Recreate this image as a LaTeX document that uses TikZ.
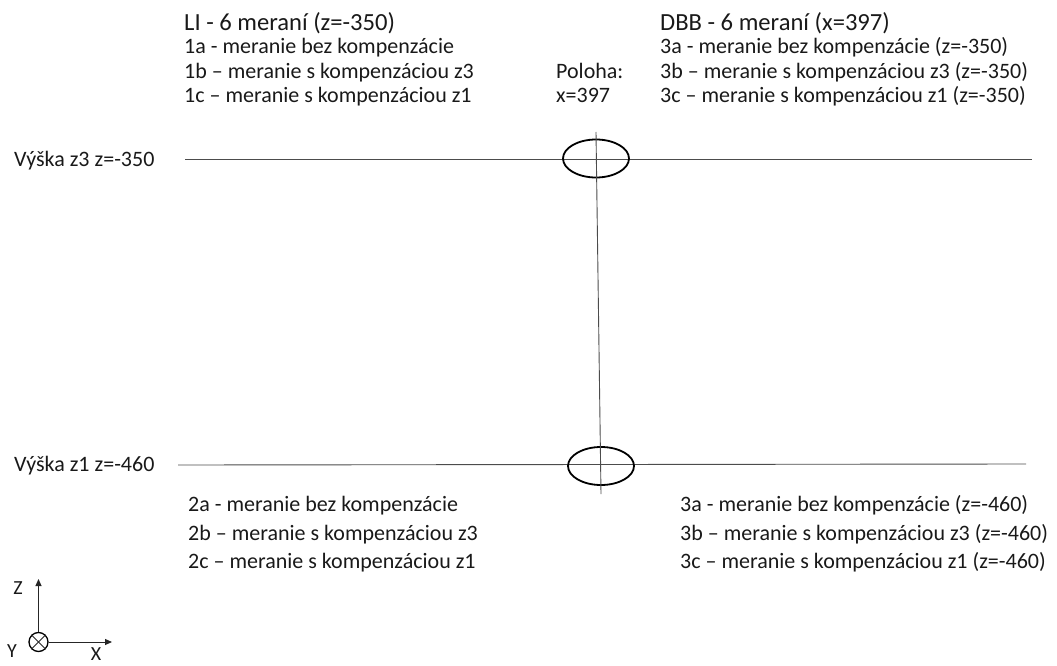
\documentclass[tikz,border=0pt]{standalone}
\usepackage{fontspec}
\setmainfont{Carlito}
\usetikzlibrary{shapes.geometric,arrows.meta}
\begin{document}
\begin{tikzpicture}[x=1pt,y=-1pt,
  txt/.style={anchor=base west,inner sep=0pt,font=\fontsize{22}{26}\selectfont,text=black!90},
  ttl/.style={anchor=base west,inner sep=0pt,font=\fontsize{24.6}{30}\selectfont,text=black!90},
  axlbl/.style={inner sep=0pt,font=\fontsize{20}{24}\selectfont,text=black!90},
  hline/.style={draw=black!70,line width=0.9pt},
  vline/.style={draw=black!70,line width=0.9pt},
  ring/.style={ellipse,draw=black,line width=1.8pt,minimum width=66pt,minimum height=38pt,inner sep=0pt},
  axis/.style={draw=black!85,line width=1pt,-{Triangle[length=7pt,width=6pt]}}
]
\useasboundingbox (0,0) rectangle (1057,666);

% top-left block
\node[ttl] (t1) at (184,31) {LI - 6 meraní (z=-350)};
\node[txt] (l1a) at (184,54) {1a - meranie bez kompenzácie};
\node[txt] (l1b) at (184,78.5) {1b – meranie s kompenzáciou z3};
\node[txt] (l1c) at (184,103) {1c – meranie s kompenzáciou z1};

% top-right block
\node[ttl] (t2) at (660,31) {DBB - 6 meraní (x=397)};
\node[txt] (r3a) at (660,54) {3a - meranie bez kompenzácie (z=-350)};
\node[txt] (r3b) at (660,78.5) {3b – meranie s kompenzáciou z3 (z=-350)};
\node[txt] (r3c) at (660,103) {3c – meranie s kompenzáciou z1 (z=-350)};

\node[txt] (pol) at (556,78.5) {Poloha:};
\node[txt] (px) at (556,103) {x=397};

% level labels
\node[txt] (z3) at (14,166) {Výška z3 z=-350};
\node[txt] (z1) at (14,471) {Výška z1 z=-460};

% horizontal lines
\coordinate (h3a) at (185,159);
\coordinate (h3b) at (1032,159);
\coordinate (h1a) at (178,465);
\coordinate (h1b) at (1026,464);
\draw[hline] (h3a) -- (h3b);
\draw[hline] (h1a) -- (h1b);

% ellipses
\node[ring] (e1) at (596,158.5) {};
\node[ring] (e2) at (601,466) {};

% vertical line
\coordinate (vt) at (596,132);
\coordinate (vb) at (601,494);
\draw[vline] (vt) -- (vb);

% bottom-left block
\node[txt] (l2a) at (188,511) {2a - meranie bez kompenzácie};
\node[txt] (l2b) at (188,540) {2b – meranie s kompenzáciou z3};
\node[txt] (l2c) at (188,568.5) {2c – meranie s kompenzáciou z1};

% bottom-right block
\node[txt] (r4a) at (680,511) {3a - meranie bez kompenzácie (z=-460)};
\node[txt] (r4b) at (680,540) {3b – meranie s kompenzáciou z3 (z=-460)};
\node[txt] (r4c) at (680,568.5) {3c – meranie s kompenzáciou z1 (z=-460)};

% axis symbol
\node[circle,draw=black,line width=1.3pt,minimum size=19pt,inner sep=0pt] (o) at (38.5,642) {};
\draw[black!85,line width=0.8pt] (o.north west) -- (o.south east);
\draw[black!85,line width=0.8pt] (o.north east) -- (o.south west);
\coordinate (ztip) at (38.5,579);
\coordinate (xtip) at (112,642);
\draw[axis] (o.north) -- (ztip);
\draw[axis] (o.east) -- (xtip);
\node[axlbl] (zl) at (18,588) {Z};
\node[axlbl] (yl) at (12,651) {Y};
\node[axlbl] (xl) at (96,654) {X};
\end{tikzpicture}
\end{document}
